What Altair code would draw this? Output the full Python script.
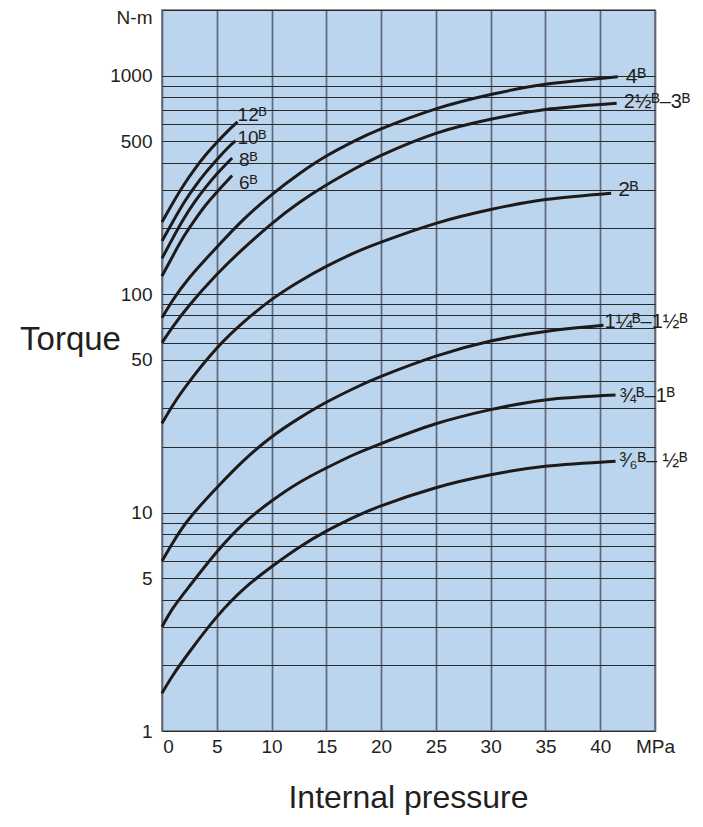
import altair as alt
import pandas as pd

# ---- data (pressure in MPa, torque in N-m) ----
series_names = ["12B", "10B", "8B", "6B", "4B", "2.5-3B", "2B", "1.25-1.5B", "0.75-1B", "0.375-0.5B"]
series_labels = ["12ᴮ", "10ᴮ", "8ᴮ", "6ᴮ", "4ᴮ", "2½ᴮ–3ᴮ", "2ᴮ", "1¼ᴮ–1½ᴮ", "¾ᴮ–1ᴮ", "³⁄₆ᴮ– ½ᴮ"]

x_12B = [0, 1, 2, 3, 4, 5, 6, 6.9]
y_12B = [214, 262, 317, 375, 435, 495, 558, 615]
x_10B = [0, 1, 2, 3, 4, 5, 6, 6.7]
y_10B = [175, 215, 262, 311, 361, 413, 467, 503]
x_8B = [0, 1, 2, 3, 4, 5, 6, 6.4]
y_8B = [146, 181, 222, 265, 309, 355, 401, 420]
x_6B = [0, 1, 2, 3, 4, 5, 6, 6.4]
y_6B = [121, 150, 184, 219, 256, 293, 332, 349]

x_4B = [0, 1, 2.5, 5, 7.5, 10, 12.5, 15, 17.5, 20, 25, 30, 35, 41.6]
y_4B = [78, 94, 119, 164, 221, 285, 355, 429, 501, 571, 705, 820, 914, 990]
x_25B = [0, 1, 2.5, 5, 7.5, 10, 12.5, 15, 17.5, 20, 25, 30, 35, 41.5]
y_25B = [60, 71, 89, 123, 163, 210, 262, 316, 373, 432, 545, 632, 700, 748]
x_2B = [0, 1, 2.5, 5, 7.5, 10, 12.5, 15, 17.5, 20, 25, 30, 35, 41]
y_2B = [25.6, 31.1, 39.8, 56.5, 74.8, 94.4, 114, 134, 154, 173, 211, 244, 271, 290]
x_125B = [0, 1, 2.5, 5, 7.5, 10, 12.5, 15, 17.5, 20, 25, 30, 35, 40.3]
y_125B = [6.0, 7.3, 9.4, 13.0, 17.4, 22.2, 27.0, 32.0, 37.0, 42.0, 52.0, 61.0, 67.5, 72.0]
x_075B = [0, 1, 2.5, 5, 7.5, 10, 12.5, 15, 17.5, 20, 25, 30, 35, 41.4]
y_075B = [3.0, 3.65, 4.6, 6.6, 8.95, 11.3, 13.7, 16.0, 18.4, 20.7, 25.5, 29.6, 32.8, 34.5]
x_0375B = [0, 1, 2.5, 5, 7.5, 10, 12.5, 15, 17.5, 20, 25, 30, 35, 41.4]
y_0375B = [1.49, 1.80, 2.30, 3.33, 4.49, 5.65, 6.92, 8.22, 9.50, 10.74, 13.0, 14.9, 16.3, 17.2]

series_x = [x_12B, x_10B, x_8B, x_6B, x_4B, x_25B, x_2B, x_125B, x_075B, x_0375B]
series_y = [y_12B, y_10B, y_8B, y_6B, y_4B, y_25B, y_2B, y_125B, y_075B, y_0375B]

x_ticks = [0, 5, 10, 15, 20, 25, 30, 35, 40, 45]
y_grid = [1, 2, 3, 4, 5, 6, 7, 8, 9,
          10, 20, 30, 40, 50, 60, 70, 80, 90,
          100, 200, 300, 400, 500, 600, 700, 800, 900,
          1000, 2000]
y_labelled = [1, 5, 10, 50, 100, 500, 1000]

# label nudges (pixels) – style settings, not data
label_dx = [0, 2, 7, 7, 8, 7, 7, 1, 4, 4]
label_dy = [-7, -3, 2, 7, 0, -1, -3, -3, 1, 0]
label_size = [19, 19, 19, 19, 21, 20, 21, 20, 20, 20]

# ---- tables ----
rows = []
label_rows = []
for name, lab, xs, ys in zip(series_names, series_labels, series_x, series_y):
    for xv, yv in zip(xs, ys):
        rows.append({"series": name, "p": xv, "t": yv})
    label_rows.append({"series": name, "label": lab, "p": xs[-1], "t": ys[-1]})
df = pd.DataFrame(rows)
df_lab = pd.DataFrame(label_rows)

FONT = "Liberation Sans, Arial, DejaVu Sans, sans-serif"
TXT = "#231f20"

x_enc = alt.X(
    "p:Q",
    scale=alt.Scale(domain=[0, 45], nice=False, zero=False),
    axis=alt.Axis(
        values=x_ticks,
        labelExpr="datum.value == 45 ? 'MPa' : '' + datum.value",
        grid=True, gridColor="#5e6878", gridWidth=1.7,
        ticks=False, domain=False, labelFlush=False,
        labelFont=FONT, labelFontSize=19, labelColor=TXT, labelPadding=6,
        labelOffset={"condition": {"test": "datum.value == 0", "value": 6}, "value": 0},
        labelOverlap=False,
        title="Internal pressure", titleFont=FONT, titleFontSize=32,
        titleFontWeight="normal", titleColor=TXT,
        titleBaseline="alphabetic", titleY=76, titleX=246, titleAlign="center",
    ),
)
y_enc = alt.Y(
    "t:Q",
    scale=alt.Scale(type="log", domain=[1, 2000], nice=False),
    axis=alt.Axis(
        values=y_grid,
        labelExpr="datum.value == 2000 ? 'N-m' : (indexof(" + str(y_labelled) + ", datum.value) >= 0 ? '' + datum.value : '')",
        grid=True, gridColor="#2a2a2a", gridWidth=1.1,
        ticks=False, domain=False, labelFlush=False,
        labelFont=FONT, labelFontSize=19, labelColor=TXT, labelPadding=10,
        labelOffset={"condition": {"test": "datum.value == 2000", "value": 7}, "value": 0},
        labelOverlap=False,
        title="Torque", titleFont=FONT, titleFontSize=33,
        titleFontWeight="normal", titleColor=TXT, titleAngle=0,
        titleAlign="center", titleBaseline="middle", titleX=-92, titleY=329,
    ),
)

lines = alt.Chart(df).mark_line(
    color="#1e1a1a", strokeWidth=3, interpolate="natural"
).encode(x=x_enc, y=y_enc, detail="series:N")

layers = [lines]
for name, dx, dy, fs in zip(series_names, label_dx, label_dy, label_size):
    layers.append(
        alt.Chart(df_lab).transform_filter(alt.datum.series == name).mark_text(
            align="left", baseline="middle", dx=dx, dy=dy,
            font=FONT, fontSize=fs, color=TXT
        ).encode(x="p:Q", y="t:Q", text="label:N")
    )

chart = alt.layer(*layers).properties(
    width=493, height=721,
    autosize=alt.AutoSizeParams(type="none"),
    padding={"left": 154, "top": 2, "right": 36, "bottom": 84},
).configure_view(
    fill="#bcd5ee", stroke="#6b6b6b", strokeWidth=1.5
)

chart.save("out.html", embed_options={"renderer": "svg", "actions": False})
